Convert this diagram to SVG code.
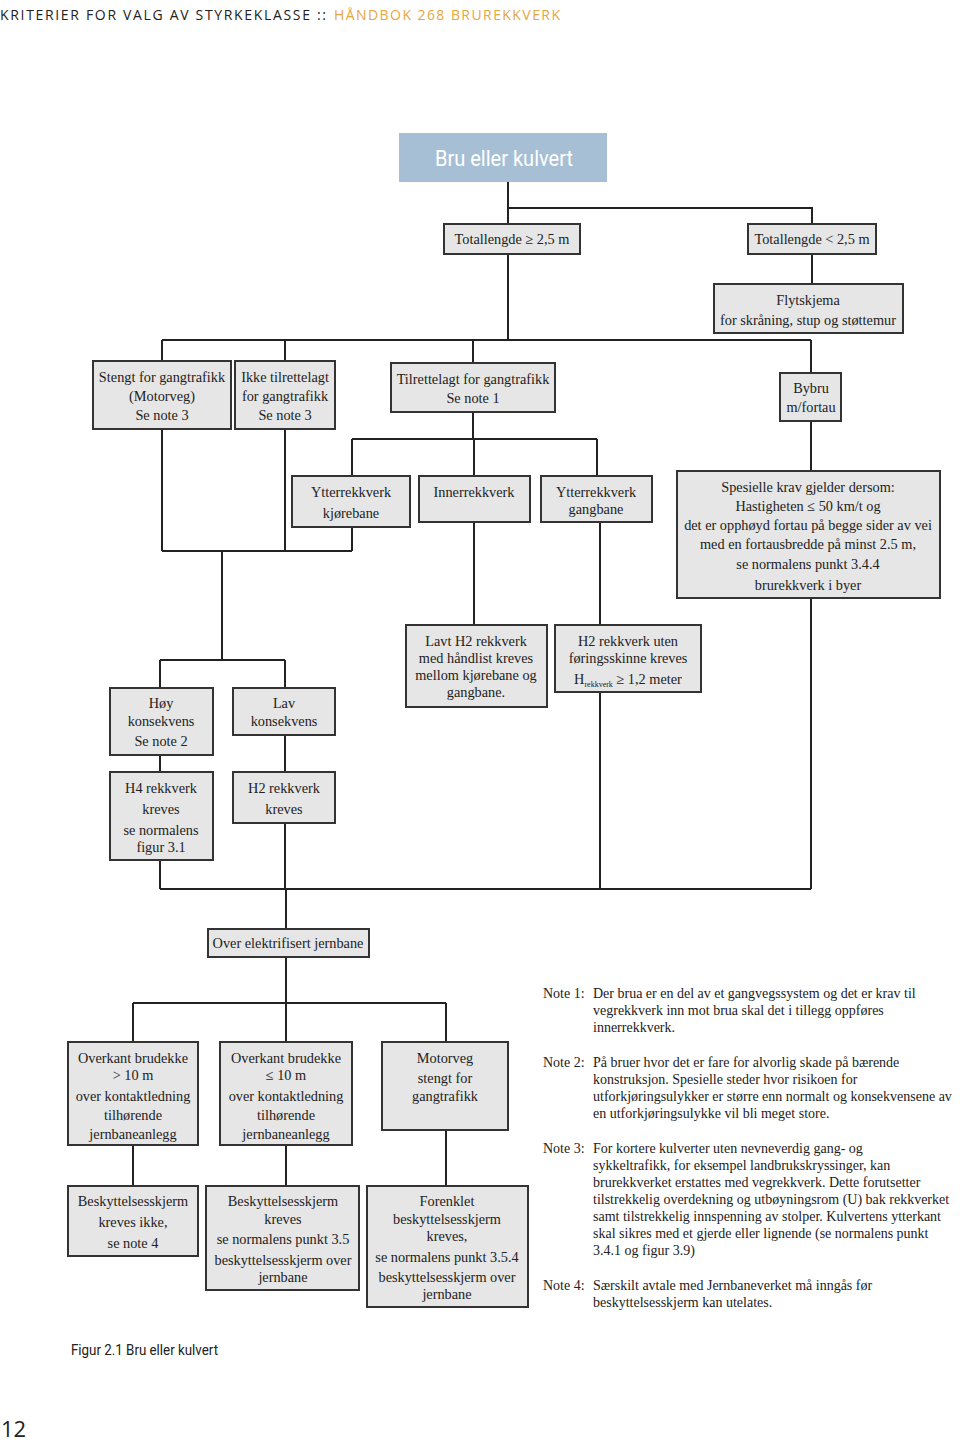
<svg xmlns="http://www.w3.org/2000/svg" width="960" height="1444" viewBox="0 0 960 1444">
<style>
.b{fill:#e6e6e6;stroke:#333;stroke-width:2}
.t{font-family:"Liberation Serif",serif;font-size:14.3px;fill:#222;text-anchor:middle}
.n{font-family:"Liberation Serif",serif;font-size:14px;fill:#222}
.c{fill:none;stroke:#222;stroke-width:2}
</style>
<rect width="960" height="1444" fill="#fff"/>
<text x="0" y="20" font-family="'Open Sans','Liberation Sans',sans-serif" font-size="14" fill="#222" textLength="326" lengthAdjust="spacing">KRITERIER FOR VALG AV STYRKEKLASSE ::</text>
<text x="334" y="20" font-family="'Open Sans','Liberation Sans',sans-serif" font-size="14" fill="#e8a540" textLength="226" lengthAdjust="spacing">HÅNDBOK 268 BRUREKKVERK</text>

<g id="connectors" class="c">
<path d="M508 182V224M508 208H812V224M508 254V340M162 340H811M162 340V361M285 340V361M473 340V363M811 340V373"/>
<path d="M812 254V284"/>
<path d="M473 412V439M352 439H597M352 439V476M474 439V476M597 439V476"/>
<path d="M811 421V471"/>
<path d="M162 429V551M285 429V551M352 527V551M162 551H352M222 551V660M160 660H285M160 660V688M285 660V688"/>
<path d="M474 522V625M600 522V625"/>
<path d="M160 755V772M285 735V772"/>
<path d="M160 860V889M285 823V889M600 692V889M811 598V889M160 889H811M286 889V929"/>
<path d="M286 957V1003M133 1003H446M133 1003V1042M286 1003V1042M446 1003V1042"/>
<path d="M133 1145V1186M286 1145V1186M446 1130V1186"/>
</g>

<g id="n_title"><rect x="399" y="133" width="208" height="49" fill="#a6bfd5"/><text x="504" y="166" font-family="Roboto,'Liberation Sans',sans-serif" font-size="22" fill="#fff" text-anchor="middle" textLength="138" lengthAdjust="spacingAndGlyphs">Bru eller kulvert</text></g>
<g id="n_tot_ge"><rect class="b" x="444" y="224" width="136" height="30"/><text class="t" x="512" y="244">Totallengde ≥ 2,5 m</text></g>
<g id="n_tot_lt"><rect class="b" x="748" y="224" width="128" height="30"/><text class="t" x="812" y="244">Totallengde &lt; 2,5 m</text></g>
<g id="n_flyt"><rect class="b" x="714" y="284" width="189" height="49"/><text class="t" x="808" y="305">Flytskjema</text><text class="t" x="808" y="325">for skråning, stup og støttemur</text></g>

<g id="n_stengt"><rect class="b" x="93" y="361" width="138" height="68"/><text class="t" x="162" y="382">Stengt for gangtrafikk</text><text class="t" x="162" y="401">(Motorveg)</text><text class="t" x="162" y="420">Se note 3</text></g>
<g id="n_ikke"><rect class="b" x="235" y="361" width="100" height="68"/><text class="t" x="285" y="382">Ikke tilrettelagt</text><text class="t" x="285" y="401">for gangtrafikk</text><text class="t" x="285" y="420">Se note 3</text></g>
<g id="n_tilr"><rect class="b" x="391" y="363" width="164" height="49"/><text class="t" x="473" y="384">Tilrettelagt for gangtrafikk</text><text class="t" x="473" y="403">Se note 1</text></g>
<g id="n_bybru"><rect class="b" x="780" y="373" width="61" height="48"/><text class="t" x="811" y="393">Bybru</text><text class="t" x="811" y="412">m/fortau</text></g>

<g id="n_ytt_kj"><rect class="b" x="292" y="476" width="118" height="51"/><text class="t" x="351" y="497">Ytterrekkverk</text><text class="t" x="351" y="518">kjørebane</text></g>
<g id="n_inner"><rect class="b" x="419" y="476" width="111" height="46"/><text class="t" x="474" y="497">Innerrekkverk</text></g>
<g id="n_ytt_gang"><rect class="b" x="541" y="476" width="111" height="46"/><text class="t" x="596" y="497">Ytterrekkverk</text><text class="t" x="596" y="514">gangbane</text></g>
<g id="n_spes"><rect class="b" x="677" y="471" width="263" height="127"/>
<text class="t" x="808" y="492">Spesielle krav gjelder dersom:</text>
<text class="t" x="808" y="511">Hastigheten ≤ 50 km/t og</text>
<text class="t" x="808" y="530">det er opphøyd fortau på begge sider av vei</text>
<text class="t" x="808" y="549">med en fortausbredde på minst 2.5 m,</text>
<text class="t" x="808" y="569">se normalens punkt 3.4.4</text>
<text class="t" x="808" y="590">brurekkverk i byer</text></g>

<g id="n_lavt_h2"><rect class="b" x="406" y="625" width="141" height="82"/><text class="t" x="476" y="646">Lavt H2 rekkverk</text><text class="t" x="476" y="663">med håndlist kreves</text><text class="t" x="476" y="680">mellom kjørebane og</text><text class="t" x="476" y="697">gangbane.</text></g>
<g id="n_h2_uten"><rect class="b" x="555" y="625" width="146" height="67"/><text class="t" x="628" y="646">H2 rekkverk uten</text><text class="t" x="628" y="663">føringsskinne kreves</text><text class="t" x="628" y="684">H<tspan font-size="8" dy="3">rekkverk</tspan><tspan dy="-3"> ≥ 1,2 meter</tspan></text></g>
<g id="n_hoy"><rect class="b" x="110" y="688" width="103" height="67"/><text class="t" x="161" y="708">Høy</text><text class="t" x="161" y="726">konsekvens</text><text class="t" x="161" y="746">Se note 2</text></g>
<g id="n_lav"><rect class="b" x="233" y="688" width="102" height="47"/><text class="t" x="284" y="708">Lav</text><text class="t" x="284" y="726">konsekvens</text></g>

<g id="n_h4"><rect class="b" x="110" y="772" width="103" height="88"/><text class="t" x="161" y="793">H4 rekkverk</text><text class="t" x="161" y="814">kreves</text><text class="t" x="161" y="835">se normalens</text><text class="t" x="161" y="852">figur 3.1</text></g>
<g id="n_h2"><rect class="b" x="233" y="772" width="102" height="51"/><text class="t" x="284" y="793">H2 rekkverk</text><text class="t" x="284" y="814">kreves</text></g>

<g id="n_over_el"><rect class="b" x="208" y="929" width="161" height="28"/><text class="t" x="288" y="948">Over elektrifisert jernbane</text></g>

<g id="n_ok_gt"><rect class="b" x="68" y="1042" width="130" height="103"/><text class="t" x="133" y="1063">Overkant brudekke</text><text class="t" x="133" y="1080">&gt; 10 m</text><text class="t" x="133" y="1101">over kontaktledning</text><text class="t" x="133" y="1120">tilhørende</text><text class="t" x="133" y="1139">jernbaneanlegg</text></g>
<g id="n_ok_le"><rect class="b" x="220" y="1042" width="132" height="103"/><text class="t" x="286" y="1063">Overkant brudekke</text><text class="t" x="286" y="1080">≤ 10 m</text><text class="t" x="286" y="1101">over kontaktledning</text><text class="t" x="286" y="1120">tilhørende</text><text class="t" x="286" y="1139">jernbaneanlegg</text></g>
<g id="n_motorveg"><rect class="b" x="382" y="1042" width="126" height="88"/><text class="t" x="445" y="1063">Motorveg</text><text class="t" x="445" y="1083">stengt for</text><text class="t" x="445" y="1101">gangtrafikk</text></g>

<g id="n_bs_ikke"><rect class="b" x="68" y="1186" width="130" height="70"/><text class="t" x="133" y="1206">Beskyttelsesskjerm</text><text class="t" x="133" y="1227">kreves ikke,</text><text class="t" x="133" y="1248">se note 4</text></g>
<g id="n_bs_kreves"><rect class="b" x="206" y="1186" width="153" height="104"/><text class="t" x="283" y="1206">Beskyttelsesskjerm</text><text class="t" x="283" y="1224">kreves</text><text class="t" x="283" y="1244">se normalens punkt 3.5</text><text class="t" x="283" y="1265">beskyttelsesskjerm over</text><text class="t" x="283" y="1282">jernbane</text></g>
<g id="n_forenklet"><rect class="b" x="367" y="1186" width="161" height="121"/><text class="t" x="447" y="1206">Forenklet</text><text class="t" x="447" y="1224">beskyttelsesskjerm</text><text class="t" x="447" y="1241">kreves,</text><text class="t" x="447" y="1262">se normalens punkt 3.5.4</text><text class="t" x="447" y="1282">beskyttelsesskjerm over</text><text class="t" x="447" y="1299">jernbane</text></g>

<g id="notes">
<text class="n" x="543" y="998">Note 1:</text>
<text class="n" x="593" y="998">Der brua er en del av et gangvegssystem og det er krav til</text>
<text class="n" x="593" y="1015">vegrekkverk inn mot brua skal det i tillegg oppføres</text>
<text class="n" x="593" y="1032">innerrekkverk.</text>
<text class="n" x="543" y="1067">Note 2:</text>
<text class="n" x="593" y="1067">På bruer hvor det er fare for alvorlig skade på bærende</text>
<text class="n" x="593" y="1084">konstruksjon. Spesielle steder hvor risikoen for</text>
<text class="n" x="593" y="1101">utforkjøringsulykker er større enn normalt og konsekvensene av</text>
<text class="n" x="593" y="1118">en utforkjøringsulykke vil bli meget store.</text>
<text class="n" x="543" y="1153">Note 3:</text>
<text class="n" x="593" y="1153">For kortere kulverter uten nevneverdig gang- og</text>
<text class="n" x="593" y="1170">sykkeltrafikk, for eksempel landbrukskryssinger, kan</text>
<text class="n" x="593" y="1187">brurekkverket erstattes med vegrekkverk. Dette forutsetter</text>
<text class="n" x="593" y="1204">tilstrekkelig overdekning og utbøyningsrom (U) bak rekkverket</text>
<text class="n" x="593" y="1221">samt tilstrekkelig innspenning av stolper. Kulvertens ytterkant</text>
<text class="n" x="593" y="1238">skal sikres med et gjerde eller lignende (se normalens punkt</text>
<text class="n" x="593" y="1255">3.4.1 og figur 3.9)</text>
<text class="n" x="543" y="1290">Note 4:</text>
<text class="n" x="593" y="1290">Særskilt avtale med Jernbaneverket må inngås før</text>
<text class="n" x="593" y="1307">beskyttelsesskjerm kan utelates.</text>
</g>

<text x="71" y="1355" font-family="Roboto,'Liberation Sans',sans-serif" font-size="14" fill="#222" textLength="147" lengthAdjust="spacingAndGlyphs">Figur 2.1 Bru eller kulvert</text>
<text x="1" y="1437" font-family="'Open Sans','Liberation Sans',sans-serif" font-size="22" fill="#222">12</text>
</svg>
